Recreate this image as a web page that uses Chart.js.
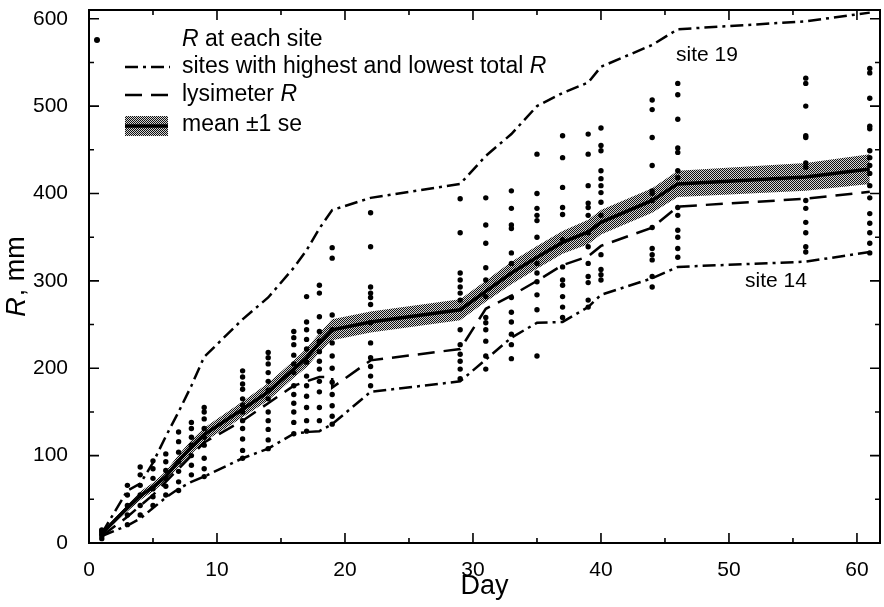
<!DOCTYPE html>
<html lang="en">
<head>
  <meta charset="UTF-8" />
  <title>Cumulative R by day</title>
  <script src="https://cdn.jsdelivr.net/npm/chart.js"></script>
  <style>
    html, body { margin: 0; padding: 0; background: #fff; }
    #wrap { width: 884px; height: 607px; }
  </style>
</head>
<body>
<div id="wrap"><canvas id="rChart" width="884" height="607"></canvas></div>

<script>
  // observation days
  const days = [1, 3, 4, 5, 6, 7, 8, 9, 12, 14, 16, 17, 18, 19, 22, 29, 31, 33, 35, 37, 39, 40, 44, 46, 56, 61];

  // mean R and its standard error on each day
  const meanR = [11, 40, 54, 64, 76, 94, 110, 124, 153, 173, 199, 212, 229, 244, 253, 267, 288, 309, 327, 344, 356, 367, 392, 411, 419, 428];
  const seR = [2, 4, 5, 5, 6, 7, 8, 8, 9, 10, 10, 11, 11, 12, 12, 12, 12, 13, 13, 13, 14, 14, 14, 15, 16, 17];

  // sites with highest and lowest total R
  const site19 = [11, 60, 68, 92, 122, 150, 180, 213, 256, 281, 315, 335, 360, 381, 395, 411, 443, 468, 500, 515, 527, 545, 570, 588, 597, 607];
  const site14 = [8, 20, 28, 40, 52, 62, 70, 76, 97, 108, 125, 127, 128, 136, 173, 185, 210, 235, 252, 253, 270, 284, 303, 316, 322, 333];

  // lysimeter R
  const lysDays = [1, 3, 5, 7, 9, 12, 14, 16, 18, 19, 19, 22, 29, 31, 33, 35, 37, 39, 40, 44, 46, 56, 61];
  const lysR = [8, 30, 55, 85, 115, 140, 160, 180, 190, 190, 178, 209, 222, 268, 283, 300, 318, 328, 340, 361, 385, 394, 402];

  // R at each site, one list per observation day
  const siteR = [
    [5, 8, 10, 12, 14, 15],
    [21, 32, 43, 55, 66],
    [32, 43, 55, 66, 78, 87],
    [43, 53, 62, 74, 85, 94],
    [55, 65, 74, 83, 93, 102],
    [60, 70, 82, 93, 104, 116, 127],
    [78, 89, 100, 112, 121, 131, 138],
    [76, 85, 97, 112, 121, 131, 142, 150, 155],
    [97, 106, 119, 131, 140, 150, 158, 165, 176, 182, 190, 197],
    [108, 118, 130, 140, 150, 165, 175, 185, 195, 205, 212, 218],
    [125, 138, 150, 160, 170, 180, 195, 205, 215, 227, 235, 242],
    [128, 140, 155, 168, 180, 191, 207, 222, 233, 244, 253, 282],
    [140, 155, 173, 185, 199, 208, 219, 231, 242, 259, 286, 295],
    [136, 145, 157, 170, 184, 200, 214, 229, 244, 261, 326, 338],
    [180, 191, 202, 212, 229, 252, 273, 281, 286, 293, 339, 378],
    [188, 199, 208, 216, 227, 244, 278, 286, 293, 301, 309, 355, 394],
    [199, 214, 231, 244, 252, 258, 282, 301, 315, 343, 364, 395],
    [211, 227, 239, 253, 264, 281, 320, 332, 360, 364, 383, 403],
    [214, 267, 284, 299, 309, 320, 350, 369, 375, 383, 400, 445],
    [258, 270, 282, 295, 301, 316, 347, 376, 384, 407, 441, 466],
    [270, 278, 298, 305, 320, 339, 355, 375, 384, 389, 409, 445, 468],
    [301, 307, 313, 330, 375, 390, 401, 409, 417, 426, 449, 455, 475],
    [293, 305, 324, 330, 337, 361, 392, 400, 403, 432, 464, 496, 507],
    [327, 337, 350, 358, 375, 384, 418, 426, 447, 452, 485, 513, 526],
    [333, 339, 355, 367, 383, 392, 430, 435, 464, 466, 500, 526, 532],
    [332, 343, 355, 366, 377, 395, 409, 423, 432, 441, 449, 474, 477, 509, 538, 543]
  ];

  // tick labels
  const xTicks = [0, 10, 20, 30, 40, 50, 60];
  const yTicks = [0, 100, 200, 300, 400, 500, 600];

  const FONT = "'Liberation Sans', Arial, Helvetica, sans-serif";
  const DASHDOT = [13, 5, 3, 5];
  const DASHED = [17, 9];

  // stipple fill for the se band
  function makeStipple() {
    const c = document.createElement('canvas');
    c.width = 2; c.height = 2;
    const g = c.getContext('2d');
    g.fillStyle = '#d4d4d4';
    g.fillRect(0, 0, 2, 2);
    g.fillStyle = '#111';
    g.fillRect(0, 0, 1, 1);
    g.fillRect(1, 1, 1, 1);
    return g.createPattern(c, 'repeat');
  }
  const stipple = makeStipple();

  const pts = (xs, ys) => xs.map((x, i) => ({ x: x, y: ys[i] }));
  const dots = [];
  days.forEach((d, i) => siteR[i].forEach(v => dots.push({ x: d, y: v })));

  const lineBase = { pointRadius: 0, tension: 0, fill: false, borderColor: '#000' };

  // inward ticks, frame, legend and labels
  const decor = {
    id: 'decor',
    afterDraw(chart) {
      const ctx = chart.ctx;
      const a = chart.chartArea;
      const xs = chart.scales.x, ys = chart.scales.y;
      ctx.save();
      ctx.strokeStyle = '#000';
      ctx.fillStyle = '#000';
      ctx.lineWidth = 2;
      ctx.setLineDash([]);
      ctx.strokeRect(a.left, a.top, a.right - a.left, a.bottom - a.top);

      ctx.lineWidth = 1.6;
      for (let v = 0; v <= xs.max; v += 5) {
        const px = xs.getPixelForValue(v);
        const len = v % 10 === 0 ? 10 : 5;
        ctx.beginPath();
        ctx.moveTo(px, a.bottom); ctx.lineTo(px, a.bottom - len);
        ctx.moveTo(px, a.top); ctx.lineTo(px, a.top + len);
        ctx.stroke();
      }
      for (let v = 0; v <= ys.max; v += 50) {
        const py = ys.getPixelForValue(v);
        const len = v % 100 === 0 ? 10 : 5;
        ctx.beginPath();
        ctx.moveTo(a.left, py); ctx.lineTo(a.left + len, py);
        ctx.moveTo(a.right, py); ctx.lineTo(a.right - len, py);
        ctx.stroke();
      }

      // y axis title with italic R
      ctx.save();
      ctx.translate(17, 277);
      ctx.rotate(-Math.PI / 2);
      ctx.textBaseline = 'middle';
      ctx.font = 'italic 27px ' + FONT;
      const wR = ctx.measureText('R').width;
      ctx.font = '27px ' + FONT;
      const wRest = ctx.measureText(', mm').width;
      const x0 = -(wR + wRest) / 2;
      ctx.font = 'italic 27px ' + FONT;
      ctx.fillText('R', x0, 0);
      ctx.font = '27px ' + FONT;
      ctx.fillText(', mm', x0 + wR + 1, 0);
      ctx.restore();

      // legend
      const tx = 182;
      const seg = (parts, y) => {
        let x = tx;
        parts.forEach(p => {
          ctx.font = (p[1] ? 'italic ' : '') + '23px ' + FONT;
          ctx.fillText(p[0], x, y);
          x += ctx.measureText(p[0]).width;
        });
      };
      ctx.textBaseline = 'middle';
      ctx.beginPath();
      ctx.arc(97, 40, 3, 0, Math.PI * 2);
      ctx.fill();
      seg([['R', true], [' at each site', false]], 40);

      ctx.lineWidth = 2.5;
      ctx.setLineDash(DASHDOT);
      ctx.beginPath(); ctx.moveTo(125, 67); ctx.lineTo(170, 67); ctx.stroke();
      seg([['sites with highest and lowest total ', false], ['R', true]], 67);

      ctx.setLineDash(DASHED);
      ctx.beginPath(); ctx.moveTo(125, 95); ctx.lineTo(168, 95); ctx.stroke();
      seg([['lysimeter ', false], ['R', true]], 95);

      ctx.setLineDash([]);
      ctx.fillStyle = stipple;
      ctx.fillRect(125, 116, 43, 20);
      ctx.fillStyle = '#000';
      ctx.lineWidth = 3.5;
      ctx.beginPath(); ctx.moveTo(125, 126); ctx.lineTo(168, 126); ctx.stroke();
      seg([['mean \u00b11 se', false]], 125);

      ctx.font = '21px ' + FONT;
      ctx.fillText('site 19', 676, 55);
      ctx.fillText('site 14', 745, 281);
      ctx.restore();
    }
  };

  Chart.defaults.font.family = FONT;
  Chart.defaults.color = '#000';

  new Chart(document.getElementById('rChart'), {
    type: 'line',
    data: {
      datasets: [
        { label: 'mean', data: pts(days, meanR), ...lineBase, borderWidth: 3.5, order: 0 },
        { label: 'R at each site', data: dots, showLine: false, pointRadius: 2.7, pointBackgroundColor: '#000', pointBorderWidth: 0, order: 1 },
        { label: 'site 19', data: pts(days, site19), ...lineBase, borderWidth: 2.5, borderDash: DASHDOT, order: 2 },
        { label: 'site 14', data: pts(days, site14), ...lineBase, borderWidth: 2.5, borderDash: DASHDOT, order: 2 },
        { label: 'lysimeter R', data: pts(lysDays, lysR), ...lineBase, borderWidth: 2.5, borderDash: DASHED, order: 2 },
        { label: 'mean - se', data: pts(days, meanR.map((m, i) => m - seR[i])), pointRadius: 0, borderWidth: 0, fill: false, order: 5 },
        { label: 'mean + se', data: pts(days, meanR.map((m, i) => m + seR[i])), pointRadius: 0, borderWidth: 0, fill: '-1', backgroundColor: stipple, order: 5 }
      ]
    },
    options: {
      responsive: false,
      animation: false,
      devicePixelRatio: 1,
      layout: { padding: { top: 10, right: 4, left: 0, bottom: 0 } },
      plugins: { legend: { display: false }, tooltip: { enabled: false } },
      scales: {
        x: {
          type: 'linear', min: 0, max: 61.8,
          grid: { display: false }, border: { display: false },
          ticks: { maxRotation: 0, padding: 7, font: { size: 21 } },
          afterBuildTicks: s => { s.ticks = xTicks.map(v => ({ value: v })); },
          title: { display: true, text: 'Day', font: { size: 27 }, padding: { top: 0, bottom: 4 } },
          afterFit: s => { s.height = 64; s.paddingLeft = 0; s.paddingRight = 0; }
        },
        y: {
          min: 0, max: 610,
          grid: { display: false }, border: { display: false },
          ticks: { padding: 13, font: { size: 21 } },
          afterBuildTicks: s => { s.ticks = yTicks.map(v => ({ value: v })); },
          afterFit: s => { s.width = 89; s.paddingTop = 0; s.paddingBottom = 0; }
        }
      }
    },
    plugins: [decor]
  });
</script>
</body>
</html>
